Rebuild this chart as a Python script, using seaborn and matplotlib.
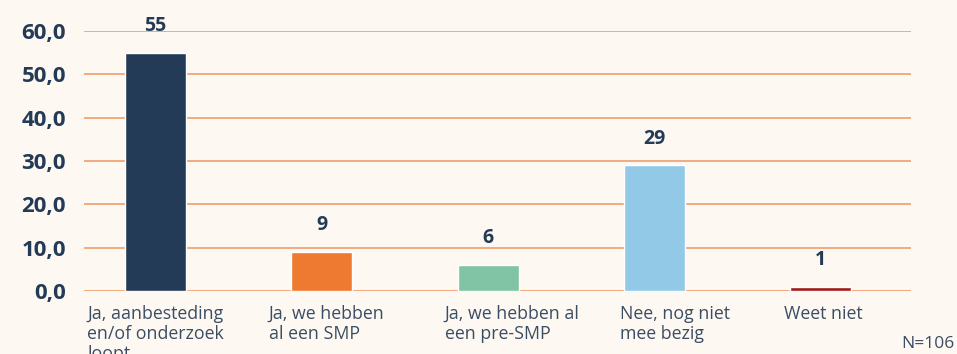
import matplotlib
matplotlib.use("Agg")
import matplotlib.pyplot as plt
import matplotlib.transforms as mtransforms
import seaborn as sns
import pandas as pd

categories = [
    "Ja, aanbesteding\nen/of onderzoek\nloopt",
    "Ja, we hebben\nal een SMP",
    "Ja, we hebben al\neen pre-SMP",
    "Nee, nog niet\nmee bezig",
    "Weet niet",
]
values = [55, 9, 6, 29, 1]
bar_colors = ["#233b57", "#ee7a31", "#80c4a5", "#92c9e7", "#9f1b17"]
y_ticks = [0, 10, 20, 30, 40, 50, 60]
y_tick_labels = ["0,0", "10,0", "20,0", "30,0", "40,0", "50,0", "60,0"]
n_note = "N=106"

bg = "#fdf8f2"
navy = "#233b57"
label_grey = "#3b4d63"
grid_orange = "#ef9560"

sns.set_theme(style="white")
plt.rcParams["font.family"] = ["Open Sans", "DejaVu Sans"]

df = pd.DataFrame({"cat": categories, "val": values})

fig = plt.figure(figsize=(9.57, 3.54), dpi=100, facecolor=bg)
ax = fig.add_axes([0.0878, 0.178, 0.8642, 0.7346])
ax.set_facecolor(bg)

sns.barplot(data=df, x="cat", y="val", hue="cat", palette=bar_colors,
            legend=False, width=0.367, ax=ax, zorder=3, saturation=1)

ax.set_ylim(0, 60)
ax.set_xlim(-0.43, 4.544)
ax.set_yticks(y_ticks)
ax.set_yticklabels(y_tick_labels, fontsize=16, fontweight="bold", color=navy)
for y in y_ticks:
    ax.axhline(y, color=grid_orange, lw=1.1, zorder=1)

ax.set_xlabel("")
ax.set_ylabel("")
ax.tick_params(axis="y", length=0, pad=13)
ax.tick_params(axis="x", length=0, pad=10)

# nudge individual category labels sideways (in pixels)
label_shift_px = [0, 5, 24, 21, 3]
for lbl, dx in zip(ax.get_xticklabels(), label_shift_px):
    lbl.set_fontsize(12.8)
    lbl.set_color(label_grey)
    lbl.set_multialignment("left")
    lbl.set_linespacing(1.15)
    lbl.set_verticalalignment("top")
    lbl.set_transform(lbl.get_transform() +
                      mtransforms.ScaledTranslation(dx / 100, 0, fig.dpi_scale_trans))

for s in ax.spines.values():
    s.set_visible(False)

for container in ax.containers:
    ax.bar_label(container, fmt="%d", padding=12, fontsize=14,
                 fontweight="bold", color=navy, clip_on=False)

fig.text(0.997, 0.005, n_note, ha="right", va="bottom", fontsize=12.5,
         color=label_grey)

fig.savefig("out.png", dpi=100, facecolor=bg)
